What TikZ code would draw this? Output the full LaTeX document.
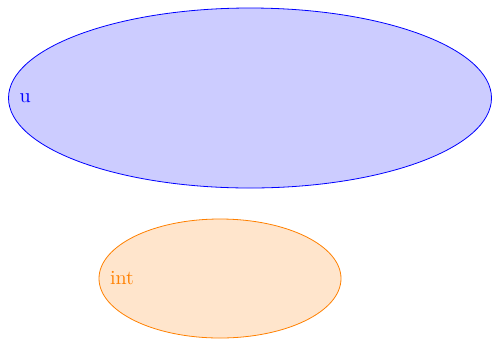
\documentclass[tikz,border=0pt]{standalone}
\usetikzlibrary{shapes.geometric}
\begin{document}
\begin{tikzpicture}[x=0.5pt, y=-0.5pt,
    region/.style={ellipse, inner sep=0pt, line width=0.4pt},
    tag/.style={anchor=west, inner sep=0pt, xshift=5.5pt}]
	\useasboundingbox (0,0) rectangle (492,339);
	
	% Ensemble u
	\node[region, draw=blue, fill=blue!20, minimum width=241.5pt, minimum height=90pt] (u) at (250,98) {};
	\node[tag, blue] (ulab) at (u.west) {u};
	
	% Ensemble int
	\node[region, draw=orange, fill=orange!20, minimum width=121pt, minimum height=59.5pt] (int) at (220,278.5) {};
	\node[tag, orange] (intlab) at (int.west) {int};
\end{tikzpicture}
\end{document}
